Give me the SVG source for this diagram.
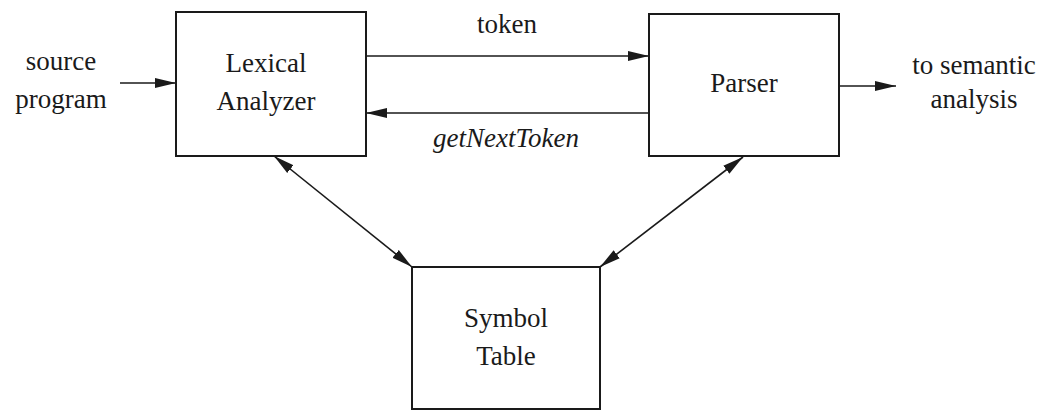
<svg xmlns="http://www.w3.org/2000/svg" width="1046" height="411" viewBox="0 0 1046 411">
<style>
.box{fill:#fff;stroke:#1a1a1a;stroke-width:2}
.lbl{font-family:"Liberation Serif",serif;font-size:27px;fill:#1a1a1a;text-anchor:middle}
.it{font-style:italic}
.edge{stroke:#1a1a1a;stroke-width:1.6;fill:none}
</style>
<defs>
<marker id="ah" markerUnits="userSpaceOnUse" markerWidth="22" markerHeight="12" refX="21" refY="6" orient="auto-start-reverse" viewBox="0 0 22 12">
<path d="M0,1 L21,6 L0,11 Z" fill="#1a1a1a"/>
</marker>
</defs>
<rect width="1046" height="411" fill="#fff"/>
<g id="connectors">
<line class="edge" x1="120" y1="83" x2="176" y2="83" marker-end="url(#ah)"/>
<line class="edge" x1="366" y1="56" x2="649" y2="56" marker-end="url(#ah)"/>
<line class="edge" x1="649" y1="113" x2="366" y2="113" marker-end="url(#ah)"/>
<line class="edge" x1="839" y1="86" x2="896" y2="86" marker-end="url(#ah)"/>
<line class="edge" x1="274" y1="156" x2="412" y2="267" marker-start="url(#ah)" marker-end="url(#ah)"/>
<line class="edge" x1="743" y1="157" x2="600" y2="267" marker-start="url(#ah)" marker-end="url(#ah)"/>
</g>
<g id="source">
<text class="lbl" x="61" y="70">source</text>
<text class="lbl" x="61" y="108">program</text>
</g>
<g id="lexical">
<rect class="box" x="176" y="12" width="190" height="144"/>
<text class="lbl" x="266" y="72">Lexical</text>
<text class="lbl" x="266" y="110">Analyzer</text>
</g>
<g id="parser">
<rect class="box" x="649" y="14" width="190" height="142"/>
<text class="lbl" x="744" y="92">Parser</text>
</g>
<g id="semantic">
<text class="lbl" x="974" y="74">to semantic</text>
<text class="lbl" x="974" y="108">analysis</text>
</g>
<g id="symtab">
<rect class="box" x="412" y="267" width="188" height="142"/>
<text class="lbl" x="506" y="327">Symbol</text>
<text class="lbl" x="506" y="365">Table</text>
</g>
<g id="edge-labels">
<text class="lbl" x="507" y="33">token</text>
<text class="lbl it" x="506" y="147">getNextToken</text>
</g>
</svg>
